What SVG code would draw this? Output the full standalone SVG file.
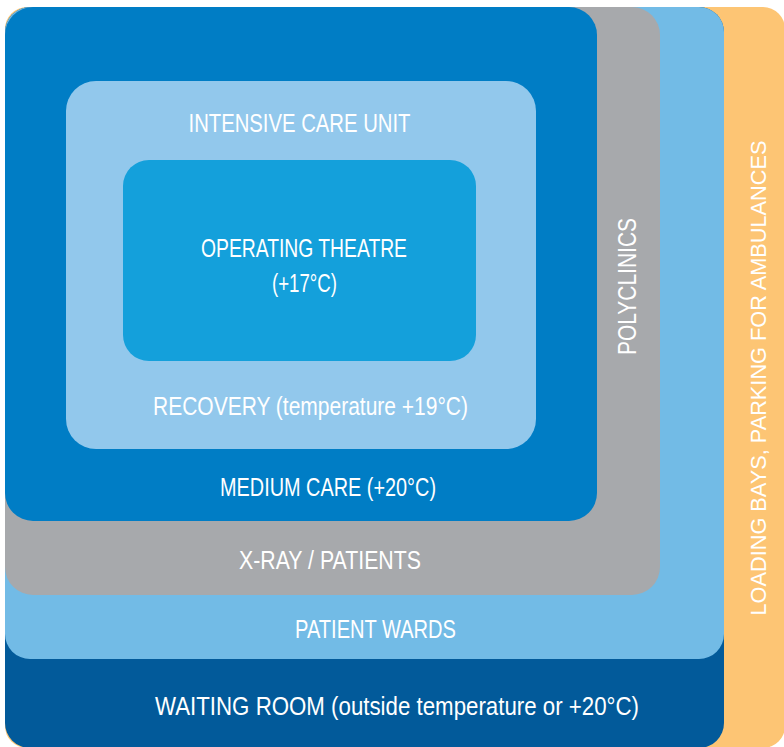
<svg xmlns="http://www.w3.org/2000/svg" width="784" height="747" viewBox="0 0 784 747">
<style>
.t{font-family:"Liberation Sans","DejaVu Sans",sans-serif;font-size:26px;fill:#ffffff;text-anchor:middle}
.w{font-family:"Liberation Sans","DejaVu Sans",sans-serif;font-size:22px;fill:#ffffff;text-anchor:middle}
</style>
<rect width="784" height="747" fill="#ffffff"/>
<g id="loading-bays">
<rect x="5" y="7" width="780" height="741" rx="22" fill="#FDC574"/>
<text class="w" transform="translate(766,378) rotate(-90)" textLength="475" lengthAdjust="spacingAndGlyphs">LOADING BAYS, PARKING FOR AMBULANCES</text>
</g>
<g id="waiting-room">
<rect x="5" y="7" width="719" height="741" rx="25" fill="#025A9A"/>
<text class="t" x="397" y="715" textLength="484" lengthAdjust="spacingAndGlyphs">WAITING ROOM (outside temperature or +20°C)</text>
</g>
<g id="patient-wards">
<rect x="5" y="7" width="719" height="652" rx="25" fill="#72BBE6"/>
<text class="t" x="375.5" y="638" textLength="161" lengthAdjust="spacingAndGlyphs">PATIENT WARDS</text>
</g>
<g id="polyclinics">
<rect x="5" y="7" width="655" height="588" rx="28" fill="#A7A9AC"/>
<text class="t" x="330" y="569" textLength="182" lengthAdjust="spacingAndGlyphs">X-RAY / PATIENTS</text>
<text class="t" transform="translate(636,286.5) rotate(-90)" textLength="137" lengthAdjust="spacingAndGlyphs">POLYCLINICS</text>
</g>
<g id="medium-care">
<rect x="5" y="7" width="592" height="514" rx="28" fill="#007DC5"/>
<text class="t" x="328" y="496" textLength="216" lengthAdjust="spacingAndGlyphs">MEDIUM CARE (+20°C)</text>
</g>
<g id="intensive-care">
<rect x="66" y="81" width="470" height="368" rx="30" fill="#92C8EC"/>
<text class="t" x="299.5" y="132" textLength="222" lengthAdjust="spacingAndGlyphs">INTENSIVE CARE UNIT</text>
<text class="t" x="310.5" y="415" textLength="315" lengthAdjust="spacingAndGlyphs">RECOVERY (temperature +19°C)</text>
</g>
<g id="operating-theatre">
<rect x="123" y="160" width="353" height="201" rx="26" fill="#14A0DB"/>
<text class="t" x="304" y="257" textLength="206" lengthAdjust="spacingAndGlyphs">OPERATING THEATRE</text>
<text class="t" x="304.5" y="292" textLength="65" lengthAdjust="spacingAndGlyphs">(+17°C)</text>
</g>
<g id="connectors"/>
</svg>
